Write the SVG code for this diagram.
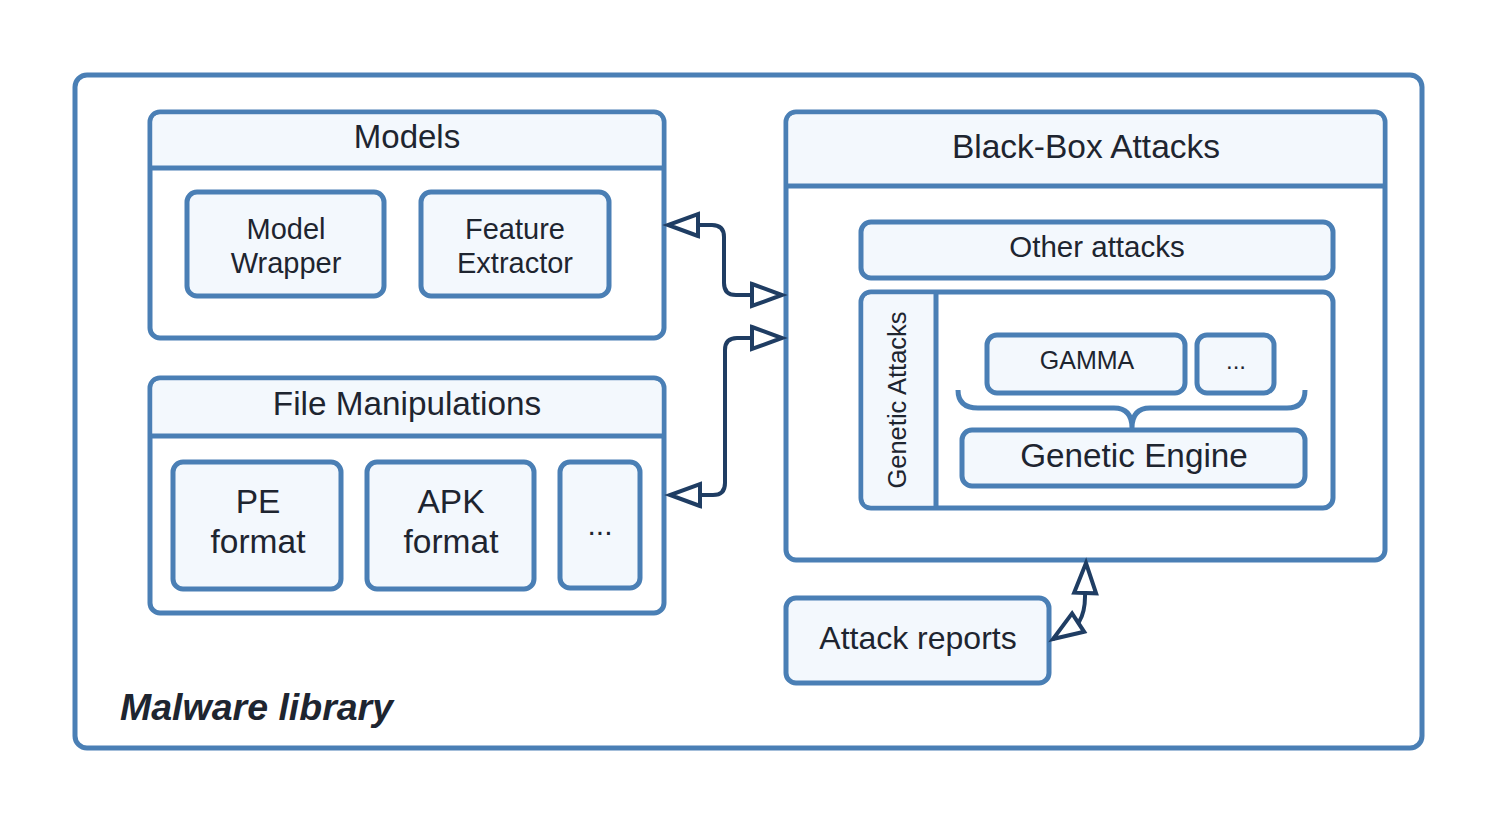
<svg xmlns="http://www.w3.org/2000/svg" width="1498" height="824" viewBox="0 0 1498 824">
<defs>
<style>
.box{fill:#f3f8fd;stroke:#4a7fb5;stroke-width:5}
.cont{fill:#ffffff;stroke:#4a7fb5;stroke-width:5}
.hdr{fill:#f3f8fd;stroke:none}
.ln{fill:none;stroke:#4a7fb5;stroke-width:5}
.t{font-family:"Liberation Sans",Arial,sans-serif;fill:#1e2530;text-anchor:middle}
.conn{fill:none;stroke:#1f3d63;stroke-width:4;stroke-linejoin:round}
</style>
<marker id="oa" markerUnits="userSpaceOnUse" markerWidth="44" markerHeight="34" refX="34" refY="13" orient="auto-start-reverse" overflow="visible">
<polygon points="4,2 34,13 4,24" fill="#ffffff" stroke="#1f3d63" stroke-width="4" stroke-linejoin="miter"/>
</marker>
</defs>
<rect width="1498" height="824" fill="#ffffff"/>
<g id="malware-library">
<rect class="cont" x="75" y="75" width="1347" height="673" rx="12"/>
<text class="t" x="120" y="720" font-size="37.5" font-weight="bold" font-style="italic" style="text-anchor:start">Malware library</text>
</g>
<g id="models">
<rect class="cont" x="150" y="112" width="514" height="226" rx="10"/>
<path class="hdr" d="M152.5,166 V122 Q152.5,114.5 160,114.5 H654 Q661.5,114.5 661.5,122 V166 Z"/>
<line class="ln" x1="150" y1="168" x2="664" y2="168"/>
<text class="t" x="407" y="148" font-size="33">Models</text>
</g>
<g id="model-wrapper">
<rect class="box" x="187" y="192" width="197" height="104" rx="10"/>
<text class="t" x="286" y="239" font-size="29">Model</text>
<text class="t" x="286" y="273" font-size="29">Wrapper</text>
</g>
<g id="feature-extractor">
<rect class="box" x="421" y="192" width="188" height="104" rx="10"/>
<text class="t" x="515" y="239" font-size="29">Feature</text>
<text class="t" x="515" y="273" font-size="29">Extractor</text>
</g>
<g id="file-manipulations">
<rect class="cont" x="150" y="378" width="514" height="235" rx="10"/>
<path class="hdr" d="M152.5,434 V388 Q152.5,380.5 160,380.5 H654 Q661.5,380.5 661.5,388 V434 Z"/>
<line class="ln" x1="150" y1="436" x2="664" y2="436"/>
<text class="t" x="407" y="415" font-size="33.3">File Manipulations</text>
</g>
<g id="pe-format">
<rect class="box" x="173" y="462" width="168" height="127" rx="10"/>
<text class="t" x="258" y="513" font-size="33.5">PE</text>
<text class="t" x="258" y="553" font-size="33.5">format</text>
</g>
<g id="apk-format">
<rect class="box" x="367" y="462" width="167" height="127" rx="10"/>
<text class="t" x="451" y="513" font-size="33.5">APK</text>
<text class="t" x="451" y="553" font-size="33.5">format</text>
</g>
<g id="more-formats">
<rect class="box" x="560" y="462" width="80" height="126" rx="10"/>
<text class="t" x="600" y="535" font-size="30">...</text>
</g>
<g id="black-box-attacks">
<rect class="cont" x="786" y="112" width="599" height="448" rx="10"/>
<path class="hdr" d="M788.5,184 V122 Q788.5,114.5 796,114.5 H1375 Q1382.5,114.5 1382.5,122 V184 Z"/>
<line class="ln" x1="786" y1="186" x2="1385" y2="186"/>
<text class="t" x="1086" y="158" font-size="33.5">Black-Box Attacks</text>
</g>
<g id="other-attacks">
<rect class="box" x="861" y="222" width="472" height="56" rx="10"/>
<text class="t" x="1097" y="257" font-size="29.5">Other attacks</text>
</g>
<g id="genetic-attacks">
<rect class="cont" x="861" y="292" width="472" height="216" rx="10"/>
<path class="hdr" d="M863.5,302 Q863.5,294.5 871,294.5 H934 V505.5 H871 Q863.5,505.5 863.5,498 Z"/>
<line class="ln" x1="936" y1="292" x2="936" y2="508"/>
<text class="t" transform="translate(906,400) rotate(-90)" font-size="25.5">Genetic Attacks</text>
</g>
<g id="gamma">
<rect class="box" x="987" y="335" width="198" height="58" rx="10"/>
<text class="t" x="1087" y="369" font-size="25">GAMMA</text>
</g>
<g id="more-attacks">
<rect class="box" x="1197" y="335" width="77" height="58" rx="10"/>
<text class="t" x="1236" y="369" font-size="24">...</text>
</g>
<g id="brace">
<path class="ln" d="M958,390 Q958,408 978,408 L1114,408 Q1132,408 1132,428 Q1132,408 1150,408 L1287,408 Q1305,408 1305,390"/>
</g>
<g id="genetic-engine">
<rect class="box" x="962" y="430" width="343" height="56" rx="10"/>
<text class="t" x="1134" y="467" font-size="33.3">Genetic Engine</text>
</g>
<g id="attack-reports">
<rect class="box" x="786" y="598" width="263" height="85" rx="10"/>
<text class="t" x="918" y="649" font-size="32">Attack reports</text>
</g>
<g id="connectors">
<path class="conn" marker-start="url(#oa)" marker-end="url(#oa)" d="M668,225 H712 Q724,225 724,237 V283 Q724,295 736,295 H782"/>
<path class="conn" marker-start="url(#oa)" marker-end="url(#oa)" d="M670,495 H713 Q725,495 725,483 V350 Q725,338 737,338 H782"/>
<path class="conn" marker-start="url(#oa)" marker-end="url(#oa)" d="M1053,639 L1079,622 Q1085,612 1085,597 L1086,563"/>
</g>
</svg>
